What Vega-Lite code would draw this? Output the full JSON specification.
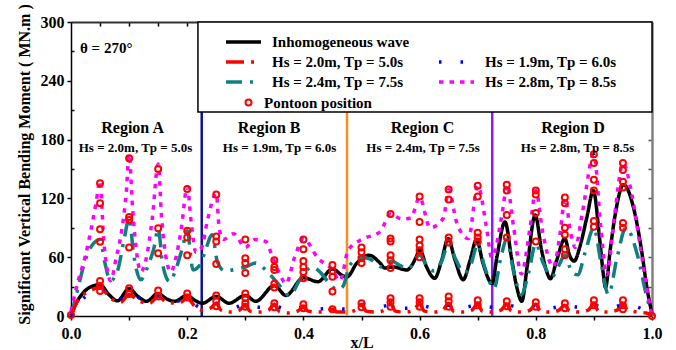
{
  "$schema": "https://vega.github.io/schema/vega-lite/v6.json",
  "width": 581,
  "height": 294,
  "autosize": {"type": "none"},
  "padding": {"left": 71, "top": 22, "right": 24, "bottom": 34},
  "background": "white",
  "config": {
    "font": "Liberation Serif",
    "view": {"stroke": null},
    "axis": {
      "grid": false,
      "labelFont": "Liberation Serif",
      "titleFont": "Liberation Serif",
      "labelFontWeight": "bold",
      "titleFontWeight": "bold",
      "labelColor": "black",
      "titleColor": "black",
      "labelFontSize": 16,
      "titleFontSize": 16,
      "tickColor": "black",
      "domainColor": "black",
      "tickWidth": 1.5,
      "domainWidth": 1.5,
      "labelFlush": false
    }
  },
  "datasets": {
    "names": [
      {"k": "B", "series": "Inhomogeneous wave"},
      {"k": "R", "series": "Hs = 2.0m, Tp = 5.0s"},
      {"k": "L", "series": "Hs = 1.9m, Tp = 6.0s"},
      {"k": "T", "series": "Hs = 2.4m, Tp = 7.5s"},
      {"k": "M", "series": "Hs = 2.8m, Tp = 8.5s"}
    ],
    "curves": [
      {"k": "B", "x": 0, "v": 0}, {"k": "B", "x": 0.008, "v": 12}, {"k": "B", "x": 0.02, "v": 23}, {"k": "B", "x": 0.035, "v": 30},
      {"k": "B", "x": 0.05, "v": 32}, {"k": "B", "x": 0.065, "v": 22}, {"k": "B", "x": 0.08, "v": 15.5}, {"k": "B", "x": 0.1, "v": 28},
      {"k": "B", "x": 0.115, "v": 20}, {"k": "B", "x": 0.13, "v": 15}, {"k": "B", "x": 0.15, "v": 23}, {"k": "B", "x": 0.163, "v": 18},
      {"k": "B", "x": 0.178, "v": 15}, {"k": "B", "x": 0.2, "v": 21}, {"k": "B", "x": 0.213, "v": 16}, {"k": "B", "x": 0.226, "v": 13},
      {"k": "B", "x": 0.25, "v": 20}, {"k": "B", "x": 0.272, "v": 13}, {"k": "B", "x": 0.3, "v": 21}, {"k": "B", "x": 0.318, "v": 15},
      {"k": "B", "x": 0.35, "v": 31}, {"k": "B", "x": 0.37, "v": 21}, {"k": "B", "x": 0.4, "v": 39}, {"k": "B", "x": 0.425, "v": 35},
      {"k": "B", "x": 0.45, "v": 48}, {"k": "B", "x": 0.468, "v": 41}, {"k": "B", "x": 0.475, "v": 40}, {"k": "B", "x": 0.492, "v": 54},
      {"k": "B", "x": 0.513, "v": 62}, {"k": "B", "x": 0.532, "v": 54}, {"k": "B", "x": 0.54, "v": 49}, {"k": "B", "x": 0.555, "v": 50},
      {"k": "B", "x": 0.578, "v": 47}, {"k": "B", "x": 0.594, "v": 60}, {"k": "B", "x": 0.6, "v": 68}, {"k": "B", "x": 0.612, "v": 50},
      {"k": "B", "x": 0.626, "v": 38.5}, {"k": "B", "x": 0.638, "v": 57}, {"k": "B", "x": 0.649, "v": 79}, {"k": "B", "x": 0.661, "v": 57},
      {"k": "B", "x": 0.675, "v": 37}, {"k": "B", "x": 0.687, "v": 57}, {"k": "B", "x": 0.698, "v": 78}, {"k": "B", "x": 0.709, "v": 54},
      {"k": "B", "x": 0.725, "v": 33}, {"k": "B", "x": 0.733, "v": 60}, {"k": "B", "x": 0.747, "v": 96}, {"k": "B", "x": 0.758, "v": 60},
      {"k": "B", "x": 0.767, "v": 30}, {"k": "B", "x": 0.776, "v": 15}, {"k": "B", "x": 0.785, "v": 50}, {"k": "B", "x": 0.799, "v": 103},
      {"k": "B", "x": 0.81, "v": 67}, {"k": "B", "x": 0.819, "v": 45}, {"k": "B", "x": 0.825, "v": 38}, {"k": "B", "x": 0.836, "v": 57},
      {"k": "B", "x": 0.85, "v": 79}, {"k": "B", "x": 0.858, "v": 62}, {"k": "B", "x": 0.866, "v": 56}, {"k": "B", "x": 0.876, "v": 71},
      {"k": "B", "x": 0.888, "v": 101}, {"k": "B", "x": 0.899, "v": 128}, {"k": "B", "x": 0.91, "v": 78}, {"k": "B", "x": 0.916, "v": 44},
      {"k": "B", "x": 0.92, "v": 29}, {"k": "B", "x": 0.928, "v": 67}, {"k": "B", "x": 0.936, "v": 101}, {"k": "B", "x": 0.951, "v": 134},
      {"k": "B", "x": 0.968, "v": 111}, {"k": "B", "x": 0.982, "v": 67}, {"k": "B", "x": 0.991, "v": 30}, {"k": "B", "x": 1.0, "v": 2},

      {"k": "T", "x": 0, "v": 0}, {"k": "T", "x": 0.012, "v": 28}, {"k": "T", "x": 0.022, "v": 52}, {"k": "T", "x": 0.035, "v": 71},
      {"k": "T", "x": 0.05, "v": 78}, {"k": "T", "x": 0.058, "v": 55}, {"k": "T", "x": 0.068, "v": 36}, {"k": "T", "x": 0.08, "v": 46},
      {"k": "T", "x": 0.092, "v": 80}, {"k": "T", "x": 0.1, "v": 100}, {"k": "T", "x": 0.108, "v": 62}, {"k": "T", "x": 0.12, "v": 37},
      {"k": "T", "x": 0.133, "v": 52}, {"k": "T", "x": 0.143, "v": 70}, {"k": "T", "x": 0.15, "v": 89}, {"k": "T", "x": 0.158, "v": 52},
      {"k": "T", "x": 0.17, "v": 35}, {"k": "T", "x": 0.18, "v": 47}, {"k": "T", "x": 0.192, "v": 70}, {"k": "T", "x": 0.2, "v": 87},
      {"k": "T", "x": 0.21, "v": 47}, {"k": "T", "x": 0.222, "v": 52}, {"k": "T", "x": 0.232, "v": 68}, {"k": "T", "x": 0.243, "v": 83},
      {"k": "T", "x": 0.252, "v": 55}, {"k": "T", "x": 0.265, "v": 46}, {"k": "T", "x": 0.285, "v": 48}, {"k": "T", "x": 0.3, "v": 50},
      {"k": "T", "x": 0.318, "v": 54}, {"k": "T", "x": 0.335, "v": 47}, {"k": "T", "x": 0.355, "v": 34}, {"k": "T", "x": 0.376, "v": 21},
      {"k": "T", "x": 0.395, "v": 38}, {"k": "T", "x": 0.415, "v": 50}, {"k": "T", "x": 0.43, "v": 44}, {"k": "T", "x": 0.445, "v": 33},
      {"k": "T", "x": 0.458, "v": 27}, {"k": "T", "x": 0.468, "v": 30}, {"k": "T", "x": 0.48, "v": 52}, {"k": "T", "x": 0.5, "v": 60},
      {"k": "T", "x": 0.515, "v": 58}, {"k": "T", "x": 0.535, "v": 50}, {"k": "T", "x": 0.552, "v": 56}, {"k": "T", "x": 0.565, "v": 52},
      {"k": "T", "x": 0.58, "v": 48}, {"k": "T", "x": 0.6, "v": 62}, {"k": "T", "x": 0.612, "v": 52}, {"k": "T", "x": 0.625, "v": 46},
      {"k": "T", "x": 0.638, "v": 56}, {"k": "T", "x": 0.65, "v": 74}, {"k": "T", "x": 0.662, "v": 58}, {"k": "T", "x": 0.677, "v": 44},
      {"k": "T", "x": 0.688, "v": 52}, {"k": "T", "x": 0.7, "v": 73}, {"k": "T", "x": 0.712, "v": 50}, {"k": "T", "x": 0.728, "v": 28},
      {"k": "T", "x": 0.74, "v": 60}, {"k": "T", "x": 0.75, "v": 78}, {"k": "T", "x": 0.762, "v": 45}, {"k": "T", "x": 0.775, "v": 22},
      {"k": "T", "x": 0.788, "v": 45}, {"k": "T", "x": 0.8, "v": 74}, {"k": "T", "x": 0.812, "v": 55}, {"k": "T", "x": 0.828, "v": 40},
      {"k": "T", "x": 0.84, "v": 52}, {"k": "T", "x": 0.85, "v": 62}, {"k": "T", "x": 0.862, "v": 45}, {"k": "T", "x": 0.872, "v": 42},
      {"k": "T", "x": 0.885, "v": 65}, {"k": "T", "x": 0.9, "v": 90}, {"k": "T", "x": 0.912, "v": 55}, {"k": "T", "x": 0.925, "v": 22},
      {"k": "T", "x": 0.94, "v": 60}, {"k": "T", "x": 0.955, "v": 90}, {"k": "T", "x": 0.975, "v": 62}, {"k": "T", "x": 0.99, "v": 22},
      {"k": "T", "x": 1.0, "v": 0},

      {"k": "M", "x": 0, "v": 5}, {"k": "M", "x": 0.012, "v": 35}, {"k": "M", "x": 0.025, "v": 62}, {"k": "M", "x": 0.035, "v": 90},
      {"k": "M", "x": 0.043, "v": 115}, {"k": "M", "x": 0.05, "v": 138}, {"k": "M", "x": 0.056, "v": 80}, {"k": "M", "x": 0.063, "v": 45},
      {"k": "M", "x": 0.068, "v": 36}, {"k": "M", "x": 0.078, "v": 60}, {"k": "M", "x": 0.088, "v": 90}, {"k": "M", "x": 0.095, "v": 125},
      {"k": "M", "x": 0.1, "v": 165}, {"k": "M", "x": 0.106, "v": 110}, {"k": "M", "x": 0.114, "v": 60}, {"k": "M", "x": 0.12, "v": 45},
      {"k": "M", "x": 0.128, "v": 55}, {"k": "M", "x": 0.14, "v": 100}, {"k": "M", "x": 0.15, "v": 155}, {"k": "M", "x": 0.156, "v": 100},
      {"k": "M", "x": 0.165, "v": 55}, {"k": "M", "x": 0.172, "v": 45}, {"k": "M", "x": 0.18, "v": 58}, {"k": "M", "x": 0.19, "v": 90},
      {"k": "M", "x": 0.2, "v": 132}, {"k": "M", "x": 0.207, "v": 95}, {"k": "M", "x": 0.215, "v": 65}, {"k": "M", "x": 0.225, "v": 70},
      {"k": "M", "x": 0.235, "v": 98}, {"k": "M", "x": 0.25, "v": 125}, {"k": "M", "x": 0.255, "v": 90}, {"k": "M", "x": 0.262, "v": 78},
      {"k": "M", "x": 0.28, "v": 84}, {"k": "M", "x": 0.3, "v": 70}, {"k": "M", "x": 0.316, "v": 78}, {"k": "M", "x": 0.335, "v": 76},
      {"k": "M", "x": 0.347, "v": 60}, {"k": "M", "x": 0.36, "v": 42}, {"k": "M", "x": 0.37, "v": 33}, {"k": "M", "x": 0.385, "v": 60},
      {"k": "M", "x": 0.4, "v": 79}, {"k": "M", "x": 0.425, "v": 59}, {"k": "M", "x": 0.45, "v": 47}, {"k": "M", "x": 0.463, "v": 36},
      {"k": "M", "x": 0.477, "v": 67}, {"k": "M", "x": 0.5, "v": 78}, {"k": "M", "x": 0.532, "v": 86}, {"k": "M", "x": 0.55, "v": 104},
      {"k": "M", "x": 0.569, "v": 99}, {"k": "M", "x": 0.585, "v": 100}, {"k": "M", "x": 0.6, "v": 121}, {"k": "M", "x": 0.618, "v": 90},
      {"k": "M", "x": 0.641, "v": 100}, {"k": "M", "x": 0.65, "v": 129}, {"k": "M", "x": 0.664, "v": 95}, {"k": "M", "x": 0.684, "v": 79},
      {"k": "M", "x": 0.7, "v": 133}, {"k": "M", "x": 0.715, "v": 91}, {"k": "M", "x": 0.724, "v": 60}, {"k": "M", "x": 0.744, "v": 112},
      {"k": "M", "x": 0.75, "v": 134}, {"k": "M", "x": 0.762, "v": 90}, {"k": "M", "x": 0.775, "v": 43}, {"k": "M", "x": 0.79, "v": 90},
      {"k": "M", "x": 0.8, "v": 128}, {"k": "M", "x": 0.812, "v": 85}, {"k": "M", "x": 0.83, "v": 50}, {"k": "M", "x": 0.842, "v": 85},
      {"k": "M", "x": 0.85, "v": 120}, {"k": "M", "x": 0.86, "v": 85}, {"k": "M", "x": 0.868, "v": 70}, {"k": "M", "x": 0.88, "v": 105},
      {"k": "M", "x": 0.9, "v": 165}, {"k": "M", "x": 0.912, "v": 90}, {"k": "M", "x": 0.922, "v": 42}, {"k": "M", "x": 0.935, "v": 100},
      {"k": "M", "x": 0.95, "v": 156}, {"k": "M", "x": 0.965, "v": 125}, {"k": "M", "x": 0.98, "v": 70}, {"k": "M", "x": 0.995, "v": 15},
      {"k": "M", "x": 1.0, "v": 0},

      {"k": "R", "x": 0, "v": 0}, {"k": "R", "x": 0.01, "v": 14}, {"k": "R", "x": 0.03, "v": 25}, {"k": "R", "x": 0.05, "v": 29},
      {"k": "R", "x": 0.068, "v": 18}, {"k": "R", "x": 0.085, "v": 14}, {"k": "R", "x": 0.1, "v": 22}, {"k": "R", "x": 0.115, "v": 16},
      {"k": "R", "x": 0.135, "v": 13}, {"k": "R", "x": 0.15, "v": 20}, {"k": "R", "x": 0.165, "v": 14}, {"k": "R", "x": 0.185, "v": 13},
      {"k": "R", "x": 0.2, "v": 18}, {"k": "R", "x": 0.213, "v": 10}, {"k": "R", "x": 0.225, "v": 6}, {"k": "R", "x": 0.24, "v": 8},
      {"k": "R", "x": 0.25, "v": 13}, {"k": "R", "x": 0.258, "v": 6}, {"k": "R", "x": 0.275, "v": 4}, {"k": "R", "x": 0.29, "v": 6},
      {"k": "R", "x": 0.3, "v": 11}, {"k": "R", "x": 0.308, "v": 5}, {"k": "R", "x": 0.325, "v": 4}, {"k": "R", "x": 0.34, "v": 6},
      {"k": "R", "x": 0.35, "v": 12}, {"k": "R", "x": 0.358, "v": 5}, {"k": "R", "x": 0.375, "v": 3}, {"k": "R", "x": 0.39, "v": 5},
      {"k": "R", "x": 0.4, "v": 9}, {"k": "R", "x": 0.408, "v": 5}, {"k": "R", "x": 0.425, "v": 4}, {"k": "R", "x": 0.44, "v": 5},
      {"k": "R", "x": 0.45, "v": 7}, {"k": "R", "x": 0.458, "v": 4}, {"k": "R", "x": 0.475, "v": 4}, {"k": "R", "x": 0.49, "v": 6},
      {"k": "R", "x": 0.5, "v": 12}, {"k": "R", "x": 0.508, "v": 5}, {"k": "R", "x": 0.525, "v": 4}, {"k": "R", "x": 0.54, "v": 6},
      {"k": "R", "x": 0.55, "v": 13}, {"k": "R", "x": 0.558, "v": 5}, {"k": "R", "x": 0.575, "v": 4}, {"k": "R", "x": 0.59, "v": 6},
      {"k": "R", "x": 0.6, "v": 13}, {"k": "R", "x": 0.608, "v": 5}, {"k": "R", "x": 0.625, "v": 4}, {"k": "R", "x": 0.64, "v": 6},
      {"k": "R", "x": 0.65, "v": 13}, {"k": "R", "x": 0.658, "v": 5}, {"k": "R", "x": 0.675, "v": 4}, {"k": "R", "x": 0.69, "v": 6},
      {"k": "R", "x": 0.7, "v": 12}, {"k": "R", "x": 0.708, "v": 5}, {"k": "R", "x": 0.725, "v": 4}, {"k": "R", "x": 0.74, "v": 6},
      {"k": "R", "x": 0.75, "v": 12}, {"k": "R", "x": 0.758, "v": 5}, {"k": "R", "x": 0.775, "v": 4}, {"k": "R", "x": 0.79, "v": 6},
      {"k": "R", "x": 0.8, "v": 12}, {"k": "R", "x": 0.808, "v": 5}, {"k": "R", "x": 0.825, "v": 4}, {"k": "R", "x": 0.84, "v": 6},
      {"k": "R", "x": 0.85, "v": 11}, {"k": "R", "x": 0.858, "v": 5}, {"k": "R", "x": 0.875, "v": 4}, {"k": "R", "x": 0.89, "v": 6},
      {"k": "R", "x": 0.9, "v": 12}, {"k": "R", "x": 0.908, "v": 5}, {"k": "R", "x": 0.925, "v": 4}, {"k": "R", "x": 0.94, "v": 6},
      {"k": "R", "x": 0.95, "v": 12}, {"k": "R", "x": 0.958, "v": 6}, {"k": "R", "x": 0.975, "v": 4}, {"k": "R", "x": 0.99, "v": 3},
      {"k": "R", "x": 1.0, "v": 1},

      {"k": "L", "x": 0, "v": 0}, {"k": "L", "x": 0.025, "v": 20}, {"k": "L", "x": 0.05, "v": 27}, {"k": "L", "x": 0.08, "v": 16},
      {"k": "L", "x": 0.1, "v": 24}, {"k": "L", "x": 0.13, "v": 15}, {"k": "L", "x": 0.15, "v": 21}, {"k": "L", "x": 0.18, "v": 15},
      {"k": "L", "x": 0.2, "v": 18}, {"k": "L", "x": 0.222, "v": 9}, {"k": "L", "x": 0.25, "v": 13}, {"k": "L", "x": 0.278, "v": 8},
      {"k": "L", "x": 0.3, "v": 12}, {"k": "L", "x": 0.325, "v": 9}, {"k": "L", "x": 0.345, "v": 11}, {"k": "L", "x": 0.376, "v": 6},
      {"k": "L", "x": 0.4, "v": 9}, {"k": "L", "x": 0.425, "v": 7}, {"k": "L", "x": 0.45, "v": 8}, {"k": "L", "x": 0.475, "v": 7},
      {"k": "L", "x": 0.5, "v": 12}, {"k": "L", "x": 0.525, "v": 9}, {"k": "L", "x": 0.55, "v": 11}, {"k": "L", "x": 0.575, "v": 8},
      {"k": "L", "x": 0.6, "v": 11}, {"k": "L", "x": 0.625, "v": 8}, {"k": "L", "x": 0.65, "v": 11}, {"k": "L", "x": 0.675, "v": 9},
      {"k": "L", "x": 0.7, "v": 11}, {"k": "L", "x": 0.725, "v": 9}, {"k": "L", "x": 0.75, "v": 11}, {"k": "L", "x": 0.775, "v": 9},
      {"k": "L", "x": 0.8, "v": 11}, {"k": "L", "x": 0.825, "v": 8}, {"k": "L", "x": 0.85, "v": 11}, {"k": "L", "x": 0.875, "v": 9},
      {"k": "L", "x": 0.9, "v": 11}, {"k": "L", "x": 0.925, "v": 8}, {"k": "L", "x": 0.95, "v": 11}, {"k": "L", "x": 0.975, "v": 9},
      {"k": "L", "x": 1.0, "v": 0}
    ],
    "pontoons": [
      {"kind": "Pontoon position", "x": 0, "v": 1},
      {"kind": "Pontoon position", "x": 0.05, "v": 135.4}, {"kind": "Pontoon position", "x": 0.05, "v": 115}, {"kind": "Pontoon position", "x": 0.05, "v": 88.5},
      {"kind": "Pontoon position", "x": 0.05, "v": 75.8}, {"kind": "Pontoon position", "x": 0.05, "v": 35.7}, {"kind": "Pontoon position", "x": 0.05, "v": 30.6},
      {"kind": "Pontoon position", "x": 0.05, "v": 25.5},
      {"kind": "Pontoon position", "x": 0.1, "v": 161}, {"kind": "Pontoon position", "x": 0.1, "v": 101}, {"kind": "Pontoon position", "x": 0.1, "v": 98},
      {"kind": "Pontoon position", "x": 0.1, "v": 70}, {"kind": "Pontoon position", "x": 0.1, "v": 28.3}, {"kind": "Pontoon position", "x": 0.1, "v": 22.4},
      {"kind": "Pontoon position", "x": 0.15, "v": 150}, {"kind": "Pontoon position", "x": 0.15, "v": 89.5}, {"kind": "Pontoon position", "x": 0.15, "v": 64},
      {"kind": "Pontoon position", "x": 0.15, "v": 26}, {"kind": "Pontoon position", "x": 0.15, "v": 20},
      {"kind": "Pontoon position", "x": 0.2, "v": 129.6}, {"kind": "Pontoon position", "x": 0.2, "v": 87}, {"kind": "Pontoon position", "x": 0.2, "v": 80},
      {"kind": "Pontoon position", "x": 0.2, "v": 62}, {"kind": "Pontoon position", "x": 0.2, "v": 23}, {"kind": "Pontoon position", "x": 0.2, "v": 19},
      {"kind": "Pontoon position", "x": 0.25, "v": 124}, {"kind": "Pontoon position", "x": 0.25, "v": 81}, {"kind": "Pontoon position", "x": 0.25, "v": 76},
      {"kind": "Pontoon position", "x": 0.25, "v": 53}, {"kind": "Pontoon position", "x": 0.25, "v": 21}, {"kind": "Pontoon position", "x": 0.25, "v": 15},
      {"kind": "Pontoon position", "x": 0.25, "v": 10},
      {"kind": "Pontoon position", "x": 0.3, "v": 78}, {"kind": "Pontoon position", "x": 0.3, "v": 59}, {"kind": "Pontoon position", "x": 0.3, "v": 54},
      {"kind": "Pontoon position", "x": 0.3, "v": 44}, {"kind": "Pontoon position", "x": 0.3, "v": 23}, {"kind": "Pontoon position", "x": 0.3, "v": 18},
      {"kind": "Pontoon position", "x": 0.3, "v": 13}, {"kind": "Pontoon position", "x": 0.3, "v": 9.5},
      {"kind": "Pontoon position", "x": 0.35, "v": 57}, {"kind": "Pontoon position", "x": 0.35, "v": 50}, {"kind": "Pontoon position", "x": 0.35, "v": 47},
      {"kind": "Pontoon position", "x": 0.35, "v": 33}, {"kind": "Pontoon position", "x": 0.35, "v": 29}, {"kind": "Pontoon position", "x": 0.35, "v": 13},
      {"kind": "Pontoon position", "x": 0.35, "v": 9},
      {"kind": "Pontoon position", "x": 0.4, "v": 78}, {"kind": "Pontoon position", "x": 0.4, "v": 68}, {"kind": "Pontoon position", "x": 0.4, "v": 56},
      {"kind": "Pontoon position", "x": 0.4, "v": 50}, {"kind": "Pontoon position", "x": 0.4, "v": 45}, {"kind": "Pontoon position", "x": 0.4, "v": 38.5},
      {"kind": "Pontoon position", "x": 0.4, "v": 12}, {"kind": "Pontoon position", "x": 0.4, "v": 8},
      {"kind": "Pontoon position", "x": 0.45, "v": 52}, {"kind": "Pontoon position", "x": 0.45, "v": 46}, {"kind": "Pontoon position", "x": 0.45, "v": 40},
      {"kind": "Pontoon position", "x": 0.45, "v": 25}, {"kind": "Pontoon position", "x": 0.45, "v": 7},
      {"kind": "Pontoon position", "x": 0.5, "v": 70}, {"kind": "Pontoon position", "x": 0.5, "v": 65}, {"kind": "Pontoon position", "x": 0.5, "v": 59},
      {"kind": "Pontoon position", "x": 0.5, "v": 54}, {"kind": "Pontoon position", "x": 0.5, "v": 13}, {"kind": "Pontoon position", "x": 0.5, "v": 9},
      {"kind": "Pontoon position", "x": 0.55, "v": 104}, {"kind": "Pontoon position", "x": 0.55, "v": 79}, {"kind": "Pontoon position", "x": 0.55, "v": 76},
      {"kind": "Pontoon position", "x": 0.55, "v": 62}, {"kind": "Pontoon position", "x": 0.55, "v": 57}, {"kind": "Pontoon position", "x": 0.55, "v": 49},
      {"kind": "Pontoon position", "x": 0.55, "v": 18}, {"kind": "Pontoon position", "x": 0.55, "v": 14}, {"kind": "Pontoon position", "x": 0.55, "v": 9.5},
      {"kind": "Pontoon position", "x": 0.6, "v": 122}, {"kind": "Pontoon position", "x": 0.6, "v": 96}, {"kind": "Pontoon position", "x": 0.6, "v": 78},
      {"kind": "Pontoon position", "x": 0.6, "v": 72}, {"kind": "Pontoon position", "x": 0.6, "v": 67}, {"kind": "Pontoon position", "x": 0.6, "v": 60},
      {"kind": "Pontoon position", "x": 0.6, "v": 18}, {"kind": "Pontoon position", "x": 0.6, "v": 14}, {"kind": "Pontoon position", "x": 0.6, "v": 9.5},
      {"kind": "Pontoon position", "x": 0.65, "v": 129}, {"kind": "Pontoon position", "x": 0.65, "v": 119}, {"kind": "Pontoon position", "x": 0.65, "v": 80},
      {"kind": "Pontoon position", "x": 0.65, "v": 75}, {"kind": "Pontoon position", "x": 0.65, "v": 20}, {"kind": "Pontoon position", "x": 0.65, "v": 15},
      {"kind": "Pontoon position", "x": 0.65, "v": 9.5},
      {"kind": "Pontoon position", "x": 0.7, "v": 133}, {"kind": "Pontoon position", "x": 0.7, "v": 122}, {"kind": "Pontoon position", "x": 0.7, "v": 85},
      {"kind": "Pontoon position", "x": 0.7, "v": 80}, {"kind": "Pontoon position", "x": 0.7, "v": 76}, {"kind": "Pontoon position", "x": 0.7, "v": 16},
      {"kind": "Pontoon position", "x": 0.7, "v": 11},
      {"kind": "Pontoon position", "x": 0.75, "v": 134}, {"kind": "Pontoon position", "x": 0.75, "v": 128}, {"kind": "Pontoon position", "x": 0.75, "v": 103},
      {"kind": "Pontoon position", "x": 0.75, "v": 80}, {"kind": "Pontoon position", "x": 0.75, "v": 15}, {"kind": "Pontoon position", "x": 0.75, "v": 10},
      {"kind": "Pontoon position", "x": 0.8, "v": 128}, {"kind": "Pontoon position", "x": 0.8, "v": 124}, {"kind": "Pontoon position", "x": 0.8, "v": 105},
      {"kind": "Pontoon position", "x": 0.8, "v": 76}, {"kind": "Pontoon position", "x": 0.8, "v": 14}, {"kind": "Pontoon position", "x": 0.8, "v": 9.5},
      {"kind": "Pontoon position", "x": 0.85, "v": 121}, {"kind": "Pontoon position", "x": 0.85, "v": 115}, {"kind": "Pontoon position", "x": 0.85, "v": 90},
      {"kind": "Pontoon position", "x": 0.85, "v": 83}, {"kind": "Pontoon position", "x": 0.85, "v": 68}, {"kind": "Pontoon position", "x": 0.85, "v": 62},
      {"kind": "Pontoon position", "x": 0.85, "v": 13}, {"kind": "Pontoon position", "x": 0.85, "v": 8},
      {"kind": "Pontoon position", "x": 0.9, "v": 165}, {"kind": "Pontoon position", "x": 0.9, "v": 156}, {"kind": "Pontoon position", "x": 0.9, "v": 139},
      {"kind": "Pontoon position", "x": 0.9, "v": 128}, {"kind": "Pontoon position", "x": 0.9, "v": 97}, {"kind": "Pontoon position", "x": 0.9, "v": 91},
      {"kind": "Pontoon position", "x": 0.9, "v": 16}, {"kind": "Pontoon position", "x": 0.9, "v": 11},
      {"kind": "Pontoon position", "x": 0.95, "v": 156}, {"kind": "Pontoon position", "x": 0.95, "v": 149}, {"kind": "Pontoon position", "x": 0.95, "v": 137},
      {"kind": "Pontoon position", "x": 0.95, "v": 131}, {"kind": "Pontoon position", "x": 0.95, "v": 95}, {"kind": "Pontoon position", "x": 0.95, "v": 90},
      {"kind": "Pontoon position", "x": 0.95, "v": 16}, {"kind": "Pontoon position", "x": 0.95, "v": 11}, {"kind": "Pontoon position", "x": 0.95, "v": 7},
      {"kind": "Pontoon position", "x": 1.0, "v": 0}
    ],
    "edges": [
      {"edge": "A-B", "x": 0.225},
      {"edge": "B-C", "x": 0.475},
      {"edge": "C-D", "x": 0.725}
    ],
    "regionNames": [
      {"t": "Region A", "x": 0.106, "v": 186.4},
      {"t": "Region B", "x": 0.341, "v": 186.4},
      {"t": "Region C", "x": 0.605, "v": 186.4},
      {"t": "Region D", "x": 0.864, "v": 186.4}
    ],
    "regionWaves": [
      {"t": "Hs = 2.0m, Tp = 5.0s", "x": 0.111, "v": 167.6},
      {"t": "Hs = 1.9m, Tp = 6.0s", "x": 0.359, "v": 167.6},
      {"t": "Hs = 2.4m, Tp = 7.5s", "x": 0.606, "v": 167.6},
      {"t": "Hs = 2.8m, Tp = 8.5s", "x": 0.872, "v": 167.6}
    ],
    "heading": [
      {"t": "θ = 270°", "x": 0.0155, "v": 268.4}
    ],
    "legendBox": [
      {"x": 0.2185, "x2": 1.0, "v": 208.2, "v2": 300}
    ]
  },
  "layer": [
    {
      "data": {"name": "edges"},
      "mark": {"type": "rule", "strokeWidth": 2.5},
      "encoding": {
        "x": {
          "field": "x", "type": "quantitative",
          "scale": {"domain": [0, 1], "nice": false, "zero": false},
          "axis": {"orient": "bottom", "values": [0.1, 0.3, 0.5, 0.7, 0.9], "tickSize": 4, "labels": false, "domain": false, "title": null}
        },
        "stroke": {
          "field": "edge", "type": "nominal",
          "scale": {"domain": ["A-B", "B-C", "C-D"], "range": ["#10109a", "#ff8c1a", "#8c1aff"]},
          "legend": null
        }
      }
    },
    {
      "data": {"name": "curves"},
      "transform": [
        {"lookup": "k", "from": {"data": {"name": "names"}, "key": "k", "fields": ["series"]}}
      ],
      "mark": {"type": "line", "interpolate": "monotone", "strokeCap": "butt", "strokeWidth": 3.5},
      "encoding": {
        "x": {
          "field": "x", "type": "quantitative",
          "scale": {"domain": [0, 1], "nice": false, "zero": false},
          "axis": {
            "orient": "bottom", "values": [0, 0.2, 0.4, 0.6, 0.8, 1.0], "format": ".1f",
            "tickSize": 4, "labelPadding": 5, "title": "x/L",
            "titleBaseline": "middle", "titleY": 26
          }
        },
        "y": {
          "field": "v", "type": "quantitative",
          "scale": {"domain": [0, 300], "nice": false, "zero": false},
          "axis": {
            "orient": "left", "values": [0, 60, 120, 180, 240, 300],
            "tickSize": 4, "labelPadding": 3,
            "title": "Significant Vertical Bending Moment ( MN.m )",
            "titleX": -46.5, "titleY": 142, "titleAngle": -90, "titleAlign": "center", "titleBaseline": "middle"
          }
        },
        "color": {
          "field": "series", "type": "nominal",
          "scale": {
            "domain": ["Inhomogeneous wave", "Hs = 2.0m, Tp = 5.0s", "Hs = 2.4m, Tp = 7.5s", " ", "Hs = 1.9m, Tp = 6.0s", "Hs = 2.8m, Tp = 8.5s"],
            "range": ["#000000", "#ff0000", "#0f8080", "rgba(0,0,0,0)", "#0000ff", "#ff00ff"]
          },
          "legend": {
            "title": null, "orient": "none", "legendX": 153, "legendY": 12, "columns": 2,
            "symbolType": "stroke", "symbolSize": 1225, "symbolStrokeWidth": 3.5, "clipHeight": 16,
            "labelFont": "Liberation Serif", "labelFontSize": 15, "labelFontWeight": "bold", "labelColor": "black",
            "labelOffset": 9, "columnPadding": 27, "rowPadding": 4, "padding": 0, "labelLimit": 300
          }
        },
        "strokeDash": {
          "field": "series", "type": "nominal",
          "scale": {
            "domain": ["Inhomogeneous wave", "Hs = 2.0m, Tp = 5.0s", "Hs = 2.4m, Tp = 7.5s", " ", "Hs = 1.9m, Tp = 6.0s", "Hs = 2.8m, Tp = 8.5s"],
            "range": [[1, 0], [18, 7, 3, 7], [16, 8, 3, 8], [1, 0], [2.5, 19], [4.5, 6]]
          },
          "legend": {
            "title": null, "orient": "none", "legendX": 153, "legendY": 12, "columns": 2,
            "symbolType": "stroke", "symbolSize": 1225, "symbolStrokeWidth": 3.5, "clipHeight": 16,
            "labelFont": "Liberation Serif", "labelFontSize": 15, "labelFontWeight": "bold", "labelColor": "black",
            "labelOffset": 9, "columnPadding": 27, "rowPadding": 4, "padding": 0, "labelLimit": 300
          }
        }
      }
    },
    {
      "data": {"name": "pontoons"},
      "mark": {"type": "point", "shape": "circle", "filled": false, "color": "#ff0000", "strokeWidth": 2, "size": 36, "opacity": 1},
      "encoding": {
        "x": {
          "field": "x", "type": "quantitative",
          "scale": {"domain": [0, 1], "nice": false, "zero": false},
          "axis": {"orient": "top", "values": [0.05, 0.1, 0.15, 0.2, 0.25, 0.3, 0.35, 0.4, 0.45, 0.5, 0.55, 0.6, 0.65, 0.7, 0.75, 0.8, 0.85, 0.9, 0.95], "tickSize": -4, "labels": false, "title": null, "domainColor": "#333333", "domainWidth": 2}
        },
        "y": {
          "field": "v", "type": "quantitative",
          "scale": {"domain": [0, 300], "nice": false, "zero": false},
          "axis": {"orient": "right", "values": [30, 60, 90, 120, 150, 180, 210, 240, 270], "tickSize": -4, "labels": false, "title": null, "domainColor": "#808080", "domainWidth": 2.5, "tickColor": "#555555"}
        },
        "shape": {
          "field": "kind", "type": "nominal",
          "scale": {"range": ["circle"]},
          "legend": {
            "title": null, "orient": "none", "legendX": 170, "legendY": 73,
            "symbolSize": 36, "symbolStrokeWidth": 2, "symbolStrokeColor": "#ff0000", "symbolOpacity": 1,
            "labelFont": "Liberation Serif", "labelFontSize": 15, "labelFontWeight": "bold", "labelColor": "black",
            "labelOffset": 8, "padding": 0
          }
        }
      }
    },
    {
      "data": {"name": "regionNames"},
      "mark": {"type": "text", "font": "Liberation Serif", "fontSize": 16, "fontWeight": "bold", "align": "center", "baseline": "alphabetic", "color": "black"},
      "encoding": {
        "x": {"field": "x", "type": "quantitative", "scale": {"domain": [0, 1], "nice": false, "zero": false}, "axis": null},
        "y": {
          "field": "v", "type": "quantitative",
          "scale": {"domain": [0, 300], "nice": false, "zero": false},
          "axis": {"orient": "left", "values": [30, 90, 150, 210, 270], "tickSize": -3, "labels": false, "domain": false, "title": null}
        },
        "text": {"field": "t"}
      }
    },
    {
      "data": {"name": "regionWaves"},
      "mark": {"type": "text", "font": "Liberation Serif", "fontSize": 13, "fontWeight": "bold", "align": "center", "baseline": "alphabetic", "color": "black"},
      "encoding": {
        "x": {"field": "x", "type": "quantitative", "scale": {"domain": [0, 1], "nice": false, "zero": false}, "axis": null},
        "y": {"field": "v", "type": "quantitative", "scale": {"domain": [0, 300], "nice": false, "zero": false}, "axis": null},
        "text": {"field": "t"}
      }
    },
    {
      "data": {"name": "heading"},
      "mark": {"type": "text", "font": "Liberation Serif", "fontSize": 15, "fontWeight": "bold", "align": "left", "baseline": "alphabetic", "color": "black"},
      "encoding": {
        "x": {"field": "x", "type": "quantitative", "scale": {"domain": [0, 1], "nice": false, "zero": false}, "axis": null},
        "y": {"field": "v", "type": "quantitative", "scale": {"domain": [0, 300], "nice": false, "zero": false}, "axis": null},
        "text": {"field": "t"}
      }
    },
    {
      "data": {"name": "legendBox"},
      "mark": {"type": "rect", "fill": "white", "stroke": "black", "strokeWidth": 1.5},
      "encoding": {
        "x": {"field": "x", "type": "quantitative", "scale": {"domain": [0, 1], "nice": false, "zero": false}, "axis": null},
        "x2": {"field": "x2"},
        "y": {"field": "v", "type": "quantitative", "scale": {"domain": [0, 300], "nice": false, "zero": false}, "axis": null},
        "y2": {"field": "v2"}
      }
    }
  ],
  "resolve": {"axis": {"x": "independent", "y": "independent"}}
}
